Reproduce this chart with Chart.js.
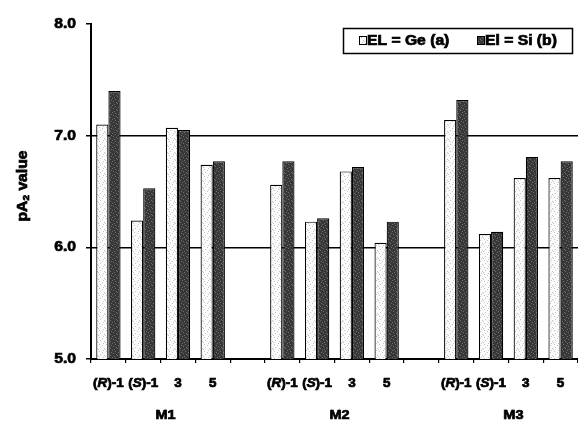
<!DOCTYPE html>
<html>
<head>
<meta charset="utf-8">
<script src="https://cdn.jsdelivr.net/npm/chart.js@4.4.1/dist/chart.umd.min.js"></script>
<style>
  html, body { margin: 0; padding: 0; background: #fff; }
  #wrap { width: 578px; height: 422px; }
</style>
</head>
<body>
<div id="wrap"><canvas id="c" width="578" height="422"></canvas></div>
<script>
// Compounds tested on each receptor preparation
const compounds = ['(R)-1', '(S)-1', '3', '5'];
const groups = ['M1', 'M2', 'M3'];

// pA2 values, EL = Ge (a)
const geM1 = [7.10, 6.24, 7.07, 6.74];
const geM2 = [6.56, 6.23, 6.68, 6.04];
const geM3 = [7.14, 6.12, 6.62, 6.62];

// pA2 values, El = Si (b)
const siM1 = [7.40, 6.53, 7.05, 6.77];
const siM2 = [6.77, 6.26, 6.72, 6.23];
const siM3 = [7.32, 6.14, 6.81, 6.77];

const yTicks = [5, 6, 7, 8];
const legendLabels = ['EL = Ge (a)', 'El = Si (b)'];

// Build the 14 category slots: 4 compounds per group, one empty slot between groups
const labels = [];
const geData = [];
const siData = [];
const groupSlots = [];
const geSets = [geM1, geM2, geM3];
const siSets = [siM1, siM2, siM3];
groups.forEach((g, gi) => {
  if (gi > 0) { labels.push(''); geData.push(null); siData.push(null); }
  const start = labels.length;
  compounds.forEach((c, ci) => {
    labels.push(c);
    geData.push(geSets[gi][ci]);
    siData.push(siSets[gi][ci]);
  });
  groupSlots.push([start, labels.length - 1]);
});

// Stippled fills for the two bar types
function makePattern(base, dot, cells) {
  const p = document.createElement('canvas');
  p.width = 7; p.height = 7;
  const g = p.getContext('2d');
  g.fillStyle = base; g.fillRect(0, 0, 7, 7);
  g.fillStyle = dot;
  cells.forEach(([x, y]) => g.fillRect(x, y, 1, 1));
  return g.createPattern(p, 'repeat');
}
const ctx = document.getElementById('c').getContext('2d');
const lightFill = makePattern('#fbfbfb', '#c4c4c4', [[1,1],[4,2],[2,4],[6,5],[5,0],[0,6]]);
const darkFill = makePattern('#383838', '#6e6e6e', [[0,0],[3,1],[6,2],[1,3],[4,4],[2,6],[5,5]]);

const FONT = '"Liberation Sans", Arial, sans-serif';
const SX = 1.12; // horizontal stretch of the lettering
const HEAVY = 0.7; // extra outline to give the lettering a heavier weight

function paint(c, s) {
  c.fillText(s, 0, 0);
  c.lineWidth = HEAVY;
  c.strokeStyle = c.fillStyle;
  c.strokeText(s, 0, 0);
}

function drawText(c, s, x, y, font, align) {
  c.save();
  c.font = font;
  const w = c.measureText(s).width * SX;
  const x0 = align === 'center' ? x - w / 2 : align === 'right' ? x - w : x;
  c.translate(x0, y);
  c.scale(SX, 1);
  c.textAlign = 'left';
  paint(c, s);
  c.restore();
  return w;
}

// Draws text made of [string, font, dy] runs
function drawRuns(c, runs, x, y, align) {
  c.save();
  let total = 0;
  runs.forEach(([s, f]) => { c.font = f; total += c.measureText(s).width * SX; });
  let cx = align === 'center' ? x - total / 2 : align === 'right' ? x - total : x;
  runs.forEach(([s, f, dy]) => {
    c.font = f;
    const w = c.measureText(s).width * SX;
    c.save();
    c.translate(cx, y + (dy || 0));
    c.scale(SX, 1);
    c.textAlign = 'left';
    paint(c, s);
    c.restore();
    cx += w;
  });
  c.restore();
}

const textPlugin = {
  id: 'textPlugin',
  afterDraw(chart) {
    const c = chart.ctx;
    const xs = chart.scales.x;
    const ys = chart.scales.y;
    c.save();
    c.fillStyle = '#000';
    c.textBaseline = 'middle';

    // y tick labels
    yTicks.forEach(v => {
      drawText(c, v.toFixed(1), 76, ys.getPixelForValue(v), 'bold 14px ' + FONT, 'right');
    });

    // y axis title with subscript
    c.save();
    c.translate(23, 186);
    c.rotate(-Math.PI / 2);
    drawRuns(c, [
      ['pA', 'bold 14px ' + FONT, 0],
      ['2', 'bold 9px ' + FONT, 4],
      [' value', 'bold 14px ' + FONT, 0]
    ], 0, 0, 'center');
    c.restore();

    // compound labels, stereodescriptor in italics
    labels.forEach((lab, i) => {
      if (!lab) return;
      const x = xs.getPixelForValue(i);
      const m = lab.match(/^\((\w)\)(.*)$/);
      const bold = 'bold 12px ' + FONT;
      const ital = 'italic bold 12px ' + FONT;
      if (m) {
        drawRuns(c, [['(', bold], [m[1], ital], [')' + m[2], bold]], x, 384, 'center');
      } else {
        drawText(c, lab, x, 384, bold, 'center');
      }
    });

    // group labels
    groupSlots.forEach(([a, b], gi) => {
      const x = (xs.getPixelForValue(a) + xs.getPixelForValue(b)) / 2 + 5;
      drawText(c, groups[gi], x, 415, 'bold 13px ' + FONT, 'center');
    });

    // boxed legend
    c.lineWidth = 1.5;
    c.strokeStyle = '#000';
    c.strokeRect(343.5, 28.5, 229, 25);
    const fills = [lightFill, darkFill];
    const lx = [359, 477];
    legendLabels.forEach((lab, i) => {
      c.fillStyle = fills[i];
      c.fillRect(lx[i], 36, 8, 9);
      c.lineWidth = 1;
      c.strokeStyle = '#000';
      c.strokeRect(lx[i] + 0.5, 36.5, 7, 8);
      c.fillStyle = '#000';
      drawText(c, lab, lx[i] + 8, 41, 'bold 14px ' + FONT, 'left');
    });
    c.restore();
  }
};

new Chart(ctx, {
  type: 'bar',
  data: {
    labels: labels,
    datasets: [
      { label: legendLabels[0], data: geData, backgroundColor: lightFill, borderColor: '#000', borderWidth: 1.2, borderSkipped: 'bottom' },
      { label: legendLabels[1], data: siData, backgroundColor: darkFill, borderColor: '#000', borderWidth: 1.2, borderSkipped: 'bottom' }
    ]
  },
  options: {
    responsive: false,
    animation: false,
    devicePixelRatio: 1,
    layout: { padding: { top: 24, right: 0, left: 0, bottom: 0 } },
    plugins: { legend: { display: false }, tooltip: { enabled: false } },
    datasets: { bar: { categoryPercentage: 0.7, barPercentage: 1.0 } },
    scales: {
      x: {
        offset: true,
        ticks: { display: false },
        grid: { offset: true, drawOnChartArea: false, drawTicks: true, tickLength: 4, tickColor: '#000', lineWidth: 1.2 },
        border: { display: true, color: '#000', width: 2 },
        afterFit(s) { s.height = 422 - 24 - 335; }
      },
      y: {
        min: 5, max: 8,
        afterBuildTicks(s) { s.ticks = yTicks.map(v => ({ value: v })); },
        ticks: { display: false },
        grid: {
          color: c => (c.tick && (c.tick.value === 6 || c.tick.value === 7)) ? '#000' : 'rgba(0,0,0,0)',
          lineWidth: 1.5,
          drawTicks: true, tickLength: 5, tickColor: '#000'
        },
        border: { display: true, color: '#000', width: 2 },
        afterFit(s) { s.width = 91; }
      }
    }
  },
  plugins: [textPlugin]
});
</script>
</body>
</html>
